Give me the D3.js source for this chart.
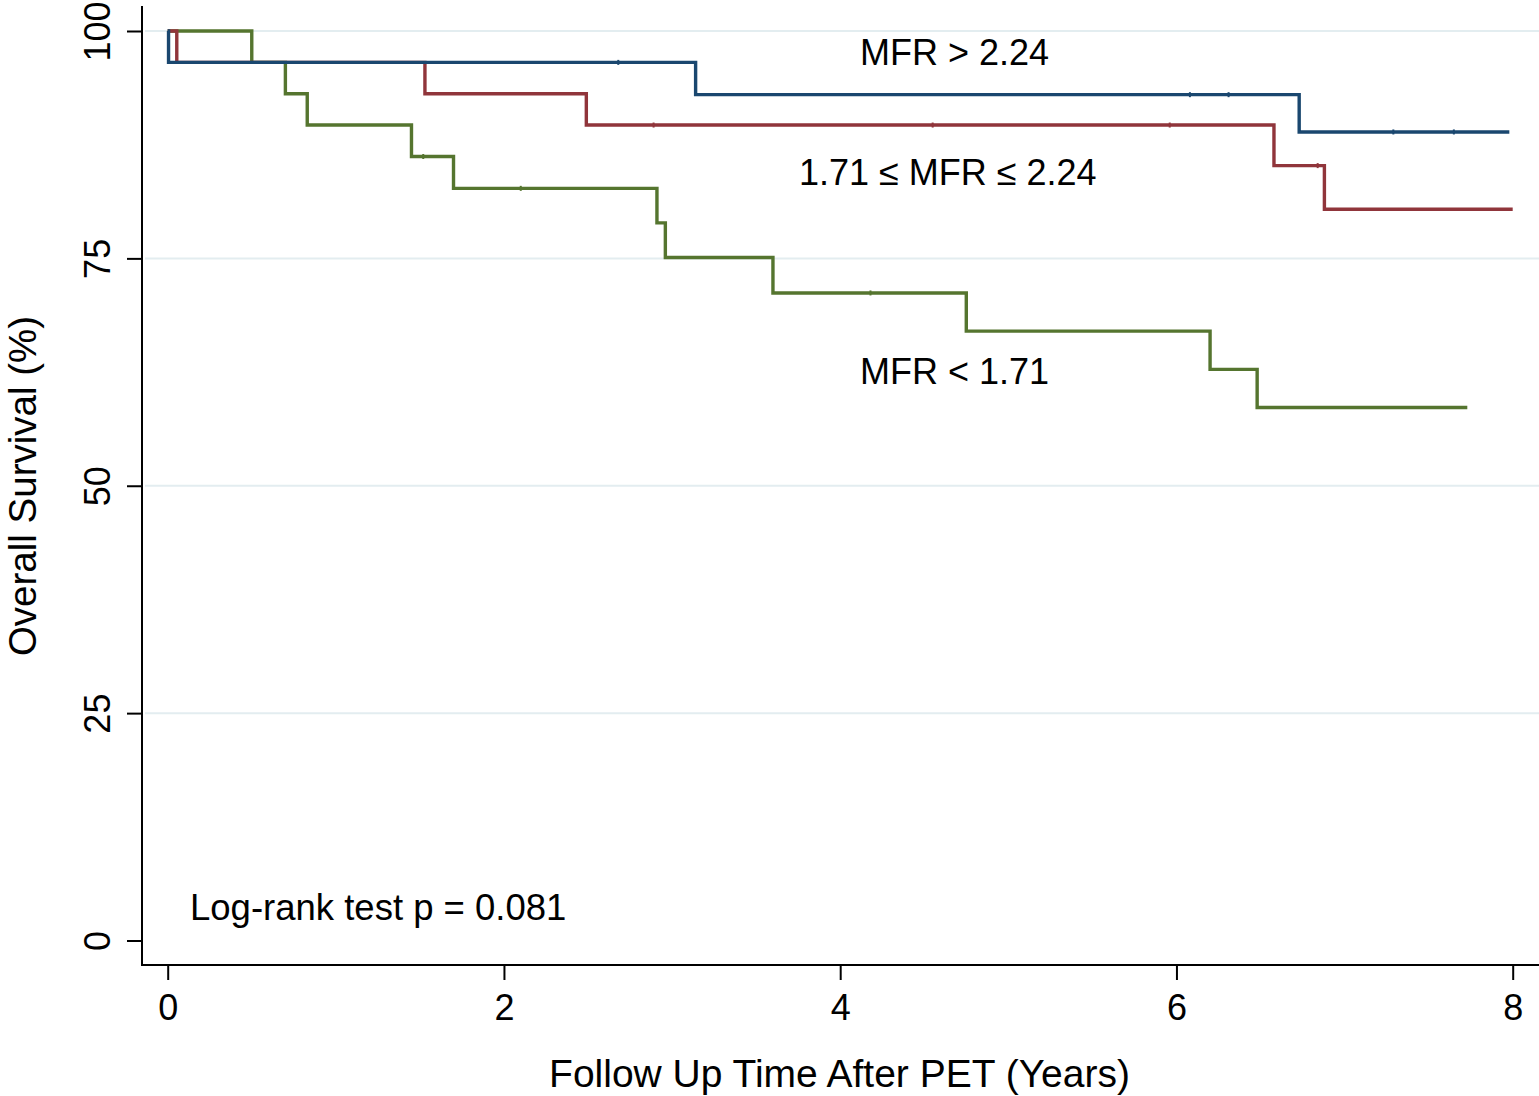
<!DOCTYPE html>
<html>
<head>
<meta charset="utf-8">
<script src="https://cdn.jsdelivr.net/npm/d3@7"></script>
<style>
	body { margin: 0; background: #fff; }
	svg { display: block; font-family: 'Liberation Sans', Arial, Helvetica, sans-serif; }
	.axis text { fill: #000; }
	.axis line { stroke: #000; stroke-width: 2px; }
	.grid line { stroke: #e3edf0; stroke-width: 2px; }
	.km { fill: none; stroke-width: 3.4px; }
</style>
</head>
<body>
<svg id="viz-km" width="1539" height="1096"></svg>
<script>

// survival steps (years, percent)
var highTimes = [ 0, 0.005, 3.14, 6.73, 7.98 ];
var highSurv = [ 100, 96.55, 93.0, 88.9, 88.9 ];
var highCensor = [ 2.68, 6.08, 6.31, 7.29, 7.65 ];

var midTimes = [ 0, 0.054, 1.53, 2.49, 6.58, 6.88, 8.0 ];
var midSurv = [ 100, 96.55, 93.1, 89.66, 85.2, 80.4, 80.4 ];
var midCensor = [ 2.89, 4.55, 5.96, 6.84 ];

var lowTimes = [ 0, 0.50, 0.70, 0.83, 1.45, 1.70, 2.91, 2.96, 3.60, 4.75, 6.20, 6.48, 7.73 ];
var lowSurv = [ 100, 96.55, 93.1, 89.66, 86.2, 82.7, 78.9, 75.1, 71.2, 67.0, 62.8, 58.6, 58.6 ];
var lowCensor = [ 1.52, 2.10, 4.18 ];

var xTicks = [ 0, 2, 4, 6, 8 ];
var yTicks = [ 0, 25, 50, 75, 100 ];
var gridTicks = [ 25, 50, 75, 100 ];

var seriesNames = [ 'MFR > 2.24', '1.71 ≤ MFR ≤ 2.24', 'MFR < 1.71' ];
var seriesColors = [ '#1a476f', '#90353b', '#55752f' ];
var labelPos = [ [ 4.68, 96.3 ], [ 4.64, 83.1 ], [ 4.68, 61.2 ] ];

var svg = d3.select( '#viz-km' );

var frame = { left: 142, top: 6, bottom: 965, right: 1539 };

var x = d3.scaleLinear().domain( [ 0, 8 ] ).range( [ 167.7, 1512.7 ] );
var y = d3.scaleLinear().domain( [ 0, 100 ] ).range( [ 940.5, 31 ] );

// horizontal grid
svg.append( 'g' )
	.classed( 'grid', true )
	.selectAll( 'line' )
	.data( gridTicks )
	.enter()
	.append( 'line' )
	.attr( 'x1', frame.left + 3 )
	.attr( 'x2', frame.right )
	.attr( 'y1', function ( d ) { return y( d ); } )
	.attr( 'y2', function ( d ) { return y( d ); } );

var xAxis = d3.axisBottom( x )
	.tickValues( xTicks )
	.tickSize( 15 )
	.tickPadding( 14 )
	.tickFormat( d3.format( 'd' ) );

var yAxis = d3.axisLeft( y )
	.tickValues( yTicks )
	.tickSize( 15 )
	.tickFormat( d3.format( 'd' ) );

var gx = svg.append( 'g' )
	.classed( 'axis', true )
	.attr( 'transform', 'translate(0,' + frame.bottom + ')' )
	.call( xAxis );
gx.select( '.domain' ).remove();
gx.selectAll( 'text' ).style( 'font-size', '36px' ).style( 'font-family', null );

var gy = svg.append( 'g' )
	.classed( 'axis', true )
	.attr( 'transform', 'translate(' + frame.left + ',0)' )
	.call( yAxis );
gy.select( '.domain' ).remove();
gy.selectAll( 'text' )
	.style( 'font-size', '36px' )
	.style( 'font-family', null )
	.attr( 'text-anchor', 'middle' )
	.attr( 'transform', 'rotate(-90)' )
	.attr( 'x', 0 )
	.attr( 'y', -45 )
	.attr( 'dy', '0.36em' );

// frame lines
svg.append( 'line' )
	.attr( 'x1', frame.left ).attr( 'x2', frame.left )
	.attr( 'y1', frame.top ).attr( 'y2', frame.bottom + 1 )
	.attr( 'stroke', '#000' ).attr( 'stroke-width', 2 );
svg.append( 'line' )
	.attr( 'x1', frame.left - 1 ).attr( 'x2', frame.right )
	.attr( 'y1', frame.bottom ).attr( 'y2', frame.bottom )
	.attr( 'stroke', '#000' ).attr( 'stroke-width', 2 );

var series = [
	{ times: lowTimes, surv: lowSurv, censor: lowCensor, color: seriesColors[2] },
	{ times: midTimes, surv: midSurv, censor: midCensor, color: seriesColors[1] },
	{ times: highTimes, surv: highSurv, censor: highCensor, color: seriesColors[0] }
];

var line = d3.line()
	.curve( d3.curveStepAfter )
	.x( function ( d ) { return x( d[0] ); } )
	.y( function ( d ) { return y( d[1] ); } );

var survAt = function ( s, t ) {
	var v = s.surv[0];
	for ( var i = 0; i < s.times.length; i++ ) {
		if ( s.times[i] <= t ) {
			v = s.surv[i];
		}
	}
	return v;
};

series.forEach( function ( s ) {
	var pts = s.times.map( function ( t, i ) { return [ t, s.surv[i] ]; } );
	svg.append( 'path' )
		.datum( pts )
		.classed( 'km', true )
		.attr( 'stroke', s.color )
		.attr( 'd', line );

	svg.selectAll( null )
		.data( s.censor )
		.enter()
		.append( 'line' )
		.attr( 'x1', function ( d ) { return x( d ); } )
		.attr( 'x2', function ( d ) { return x( d ); } )
		.attr( 'y1', function ( d ) { return y( survAt( s, d ) ) - 2.5; } )
		.attr( 'y2', function ( d ) { return y( survAt( s, d ) ) + 2.5; } )
		.attr( 'stroke', s.color )
		.attr( 'stroke-width', 2 );
} );

// group labels
svg.selectAll( 'text.series-label' )
	.data( seriesNames )
	.enter()
	.append( 'text' )
	.classed( 'series-label', true )
	.attr( 'x', function ( d, i ) { return x( labelPos[i][0] ); } )
	.attr( 'y', function ( d, i ) { return y( labelPos[i][1] ); } )
	.attr( 'text-anchor', 'middle' )
	.style( 'font-size', '36px' )
	.text( function ( d ) { return d; } );

svg.append( 'text' )
	.attr( 'x', 190 )
	.attr( 'y', 920 )
	.style( 'font-size', '36.5px' )
	.text( 'Log-rank test p = 0.081' );

// axis titles
svg.append( 'text' )
	.attr( 'x', 839.5 )
	.attr( 'y', 1087 )
	.attr( 'text-anchor', 'middle' )
	.style( 'font-size', '39px' )
	.text( 'Follow Up Time After PET (Years)' );

svg.append( 'text' )
	.attr( 'transform', 'translate(35.5,' + 486 + ') rotate(-90)' )
	.attr( 'text-anchor', 'middle' )
	.style( 'font-size', '38.5px' )
	.text( 'Overall Survival (%)' );

</script>
</body>
</html>
